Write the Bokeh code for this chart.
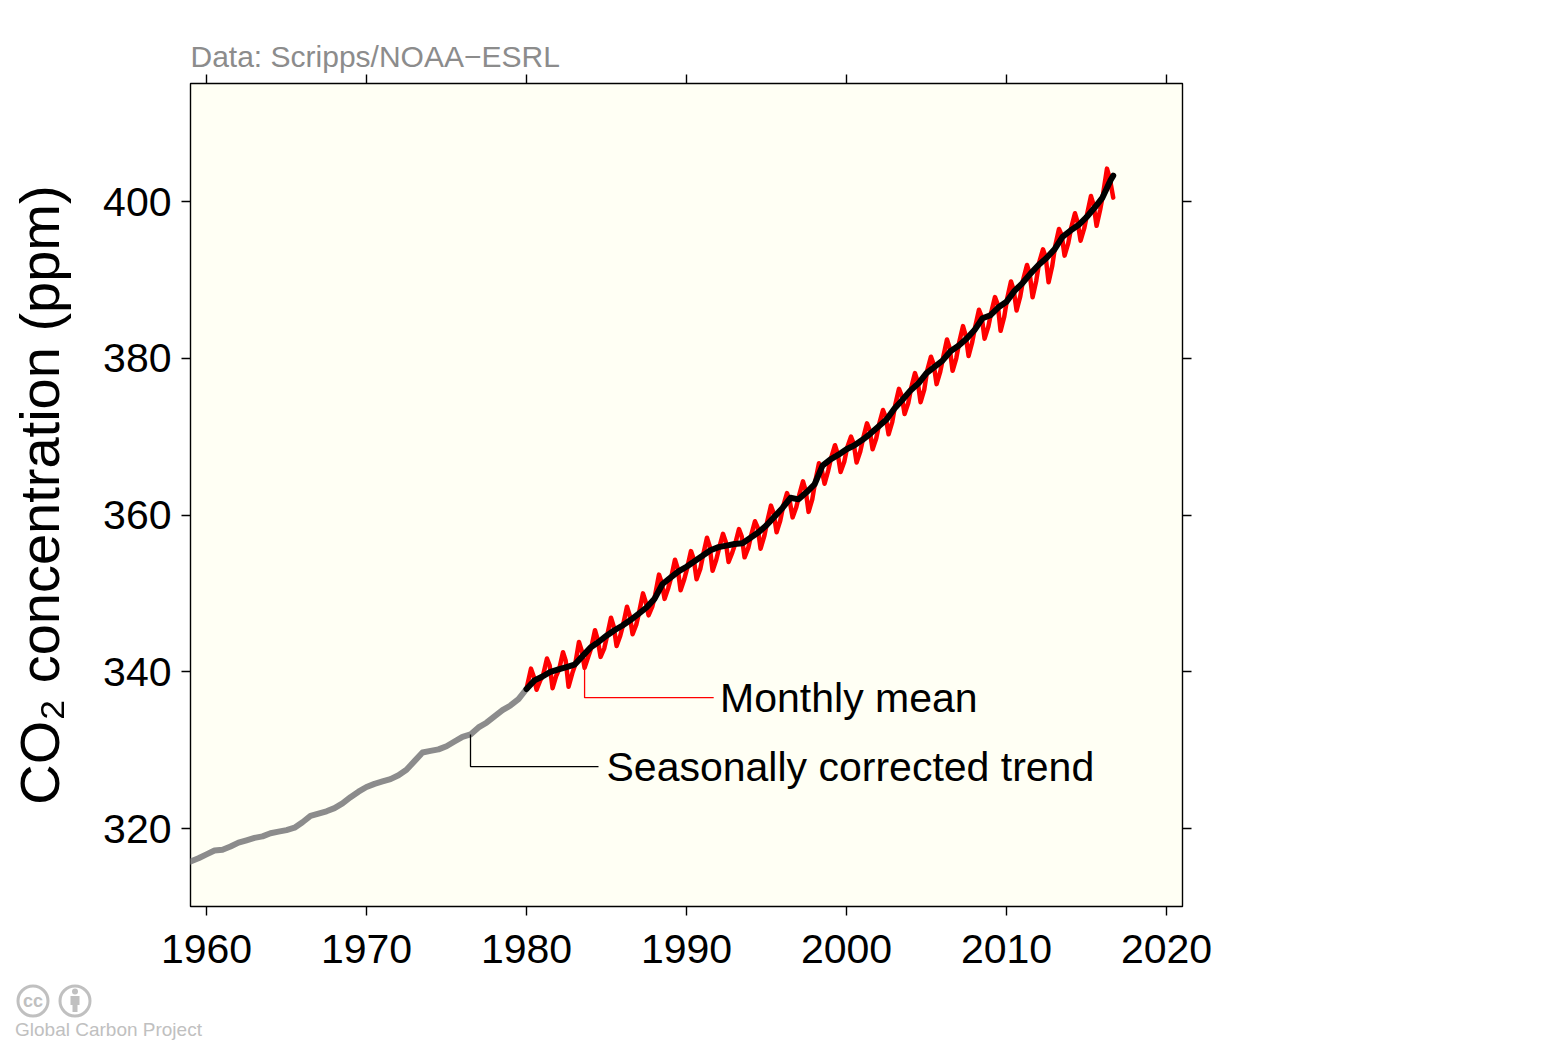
from bokeh.models import Range1d, Label, LinearAxis, FixedTicker, Div
from bokeh.plotting import figure
from bokeh.layouts import column
from bokeh.embed import file_html
from bokeh.resources import INLINE

FONT = "Liberation Sans"

# axis ticks
x_ticks = [1960, 1970, 1980, 1990, 2000, 2010, 2020]
y_ticks = [320, 340, 360, 380, 400]

# Scripps (Mauna Loa) seasonally corrected trend, before the global record
grey_t = [1959.0, 1959.5, 1960.0, 1960.5, 1961.0, 1961.5, 1962.0, 1962.5, 1963.0, 1963.5,
          1964.0, 1964.5, 1965.0, 1965.5, 1966.0, 1966.5, 1967.0, 1967.5, 1968.0, 1968.5,
          1969.0, 1969.5, 1970.0, 1970.5, 1971.0, 1971.5, 1972.0, 1972.5, 1973.0, 1973.5,
          1974.0, 1974.5, 1975.0, 1975.5, 1976.0, 1976.5, 1977.0, 1977.5, 1978.0, 1978.5,
          1979.0, 1979.5, 1980.0]
grey_v = [315.8, 316.2, 316.7, 317.2, 317.3, 317.7, 318.2, 318.5, 318.8, 319.0,
          319.4, 319.6, 319.8, 320.1, 320.8, 321.6, 321.9, 322.2, 322.6, 323.2,
          324.0, 324.7, 325.3, 325.7, 326.0, 326.3, 326.8, 327.5, 328.6, 329.7,
          329.9, 330.1, 330.5, 331.1, 331.7, 332.0, 332.9, 333.5, 334.3, 335.1,
          335.7, 336.5, 337.8]

# NOAA-ESRL global seasonally corrected trend
trend_t = [1980.0, 1980.5, 1981.0, 1981.5, 1982.0, 1982.5, 1983.0, 1983.5, 1984.0, 1984.5,
           1985.0, 1985.5, 1986.0, 1986.5, 1987.0, 1987.5, 1988.0, 1988.5, 1989.0, 1989.5,
           1990.0, 1990.5, 1991.0, 1991.5, 1992.0, 1992.5, 1993.0, 1993.5, 1994.0, 1994.5,
           1995.0, 1995.5, 1996.0, 1996.5, 1997.0, 1997.5, 1998.0, 1998.5, 1999.0, 1999.5,
           2000.0, 2000.5, 2001.0, 2001.5, 2002.0, 2002.5, 2003.0, 2003.5, 2004.0, 2004.5,
           2005.0, 2005.5, 2006.0, 2006.5, 2007.0, 2007.5, 2008.0, 2008.5, 2009.0, 2009.5,
           2010.0, 2010.5, 2011.0, 2011.5, 2012.0, 2012.5, 2013.0, 2013.5, 2014.0, 2014.5,
           2015.0, 2015.5, 2016.0, 2016.5, 2016.67]
trend_v = [337.8, 338.9, 339.4, 340.0, 340.3, 340.6, 340.9, 342.0, 343.1, 343.8,
           344.6, 345.3, 345.9, 346.6, 347.4, 348.2, 349.3, 351.2, 352.0, 352.8,
           353.4, 354.1, 354.8, 355.5, 355.9, 356.1, 356.3, 356.4, 357.1, 357.8,
           358.7, 359.8, 360.9, 362.2, 362.0, 362.9, 363.9, 366.3, 367.1, 367.7,
           368.4, 368.9, 369.6, 370.4, 371.3, 372.2, 373.6, 374.7, 375.9, 376.8,
           378.1, 378.9, 379.7, 380.9, 381.6, 382.5, 383.6, 385.1, 385.5, 386.5,
           387.2, 388.6, 389.6, 390.8, 391.9, 392.8, 393.9, 395.5, 396.3, 397.0,
           398.0, 399.2, 400.5, 402.7, 403.3]

# NOAA-ESRL global monthly mean, read at five points of each year
red_years = list(range(1980, 2017))
month_frac = [0.04, 0.28, 0.45, 0.63, 0.86]   # Jan, Apr, Jun, Aug/Sep, Nov
red_jan = [338.2, 339.6, 340.3, 340.9, 343.0, 344.6, 346.0, 347.6, 349.8, 352.0,
           353.2, 354.9, 355.8, 356.3, 357.4, 359.1, 361.1, 362.5, 364.2, 367.3,
           368.6, 369.8, 371.6, 374.0, 376.2, 378.4, 380.1, 382.0, 384.0, 385.8,
           387.6, 390.0, 392.2, 394.3, 396.6, 398.4, 401.0]
red_apr = [340.4, 341.7, 342.5, 343.8, 345.3, 346.9, 348.3, 350.0, 352.4, 354.3,
           355.4, 357.1, 357.6, 358.2, 359.2, 361.2, 362.8, 364.3, 366.6, 368.9,
           370.0, 371.7, 373.4, 376.1, 378.1, 380.2, 382.4, 384.1, 386.2, 387.8,
           389.8, 391.9, 393.9, 396.5, 398.5, 400.7, 404.2]
red_jun = [339.4, 340.8, 341.4, 342.7, 344.1, 345.8, 347.2, 348.9, 351.4, 353.2,
           354.4, 356.0, 356.6, 357.3, 358.4, 360.2, 361.8, 363.1, 365.8, 367.8,
           369.1, 370.8, 372.5, 375.2, 377.0, 379.2, 381.3, 382.9, 385.3, 386.9,
           388.7, 390.8, 392.9, 395.7, 397.3, 399.5, 403.0]
red_sep = [337.7, 337.9, 338.1, 340.5, 341.9, 343.3, 344.8, 347.2, 349.3, 350.4,
           351.8, 352.9, 354.0, 354.6, 355.7, 357.8, 359.7, 360.4, 364.0, 365.5,
           366.7, 368.4, 370.3, 372.9, 374.4, 376.7, 378.4, 380.3, 382.5, 383.5,
           386.1, 387.8, 389.7, 393.1, 395.0, 396.9, 400.5]
red_nov = [338.9, 339.5, 339.8, 341.9, 343.0, 344.6, 346.0, 348.3, 350.7, 351.8,
           353.1, 354.3, 355.2, 355.8, 357.3, 359.3, 361.0, 362.0, 365.7, 366.8,
           368.1, 369.8, 371.9, 374.3, 376.0, 378.3, 380.0, 382.1, 384.0, 385.3,
           387.9, 389.9, 391.8, 394.7, 396.6, 399.0]

red_t, red_v = [], []
for i, yr in enumerate(red_years):
    for frac, col in zip(month_frac, (red_jan, red_apr, red_jun, red_sep, red_nov)):
        if i < len(col):
            red_t.append(yr + frac)
            red_v.append(col[i])
red_t[-1] = trend_t[-1]   # record stops with the trend

p = figure(width=1400, height=980,
           x_range=Range1d(1959.0, 2021.0), y_range=Range1d(310.05, 415.06),
           output_backend="svg", toolbar_location=None,
           min_border_left=190, min_border_right=218,
           min_border_top=83, min_border_bottom=74,
           background_fill_color="#fffff4", border_fill_color="white",
           outline_line_color="black", outline_line_width=1.4)
p.grid.visible = False

p.title.text = "Data: Scripps/NOAA\u2212ESRL"
p.title.align = "left"
p.title.text_font = FONT
p.title.text_font_size = "30px"
p.title.text_font_style = "normal"
p.title.text_color = "#8c8c8c"
p.title.standoff = 4

top_axis = LinearAxis(major_label_overrides={t: "" for t in x_ticks})
right_axis = LinearAxis(major_label_overrides={t: "" for t in y_ticks})
p.add_layout(top_axis, "above")
p.add_layout(right_axis, "right")

for ax in p.xaxis:
    ax.ticker = FixedTicker(ticks=x_ticks)
    ax.major_label_standoff = 19
for ax in p.yaxis:
    ax.ticker = FixedTicker(ticks=y_ticks)
    ax.major_label_standoff = 10
for ax in p.axis:
    ax.axis_line_color = None
    ax.major_tick_line_color = "black"
    ax.major_tick_line_width = 1.4
    ax.major_tick_out = 9
    ax.major_tick_in = 0
    ax.minor_tick_line_color = None
    ax.major_label_text_font = FONT
    ax.major_label_text_font_size = "41px"
    ax.major_label_text_color = "black"
for ax in (top_axis, right_axis):
    ax.major_label_text_font_size = "1px"
    ax.major_label_standoff = 0

p.yaxis[0].axis_label = "CO\u2082 concentration (ppm)"
p.yaxis[0].axis_label_text_font = FONT
p.yaxis[0].axis_label_text_font_size = "56px"
p.yaxis[0].axis_label_text_font_style = "normal"
p.yaxis[0].axis_label_text_color = "black"
p.yaxis[0].axis_label_standoff = 29

p.line(grey_t, grey_v, line_color="#8c8c8c", line_width=6,
       line_join="round", line_cap="round")
p.line(red_t, red_v, line_color="#ff0000", line_width=4.5,
       line_join="round", line_cap="round")
p.line(trend_t, trend_v, line_color="black", line_width=6,
       line_join="round", line_cap="round")

# leader lines for the two labels
ra_x, ra_y = red_years[3] + month_frac[3], red_sep[3]
p.line([ra_x, ra_x, 1991.7], [ra_y, 336.7, 336.7], line_color="#ff0000", line_width=1.3)
p.add_layout(Label(x=1992.1, y=336.7, text="Monthly mean", text_font=FONT,
                   text_font_size="41px", text_color="black", text_baseline="middle"))

ga_x, ga_y = grey_t[35], grey_v[35]
p.line([ga_x, ga_x, 1984.5], [ga_y, 327.9, 327.9], line_color="black", line_width=1.3)
p.add_layout(Label(x=1985.0, y=327.9, text="Seasonally corrected trend", text_font=FONT,
                   text_font_size="41px", text_color="black", text_baseline="middle"))

# licence badge and credit, bottom left
logo_grey = "#c0c0c0"
badge = f"""
<svg xmlns="http://www.w3.org/2000/svg" width="260" height="60" style="display:block">
  <circle cx="33" cy="21" r="15" fill="none" stroke="{logo_grey}" stroke-width="3"/>
  <text x="33" y="27" font-family="{FONT}" font-weight="bold" font-size="18"
        fill="{logo_grey}" text-anchor="middle">cc</text>
  <circle cx="75" cy="21" r="15" fill="none" stroke="{logo_grey}" stroke-width="3"/>
  <circle cx="75" cy="11.5" r="3" fill="{logo_grey}"/>
  <rect x="70.5" y="16" width="9" height="9" fill="{logo_grey}"/>
  <rect x="72.5" y="25" width="5" height="7" fill="{logo_grey}"/>
  <text x="15" y="56" font-family="{FONT}" font-size="19" fill="{logo_grey}">Global Carbon Project</text>
</svg>
"""
logo = Div(text=badge, width=260, height=60, margin=0)

page = column(p, logo, spacing=0)

open("out.html", "w").write(file_html(page, INLINE))
